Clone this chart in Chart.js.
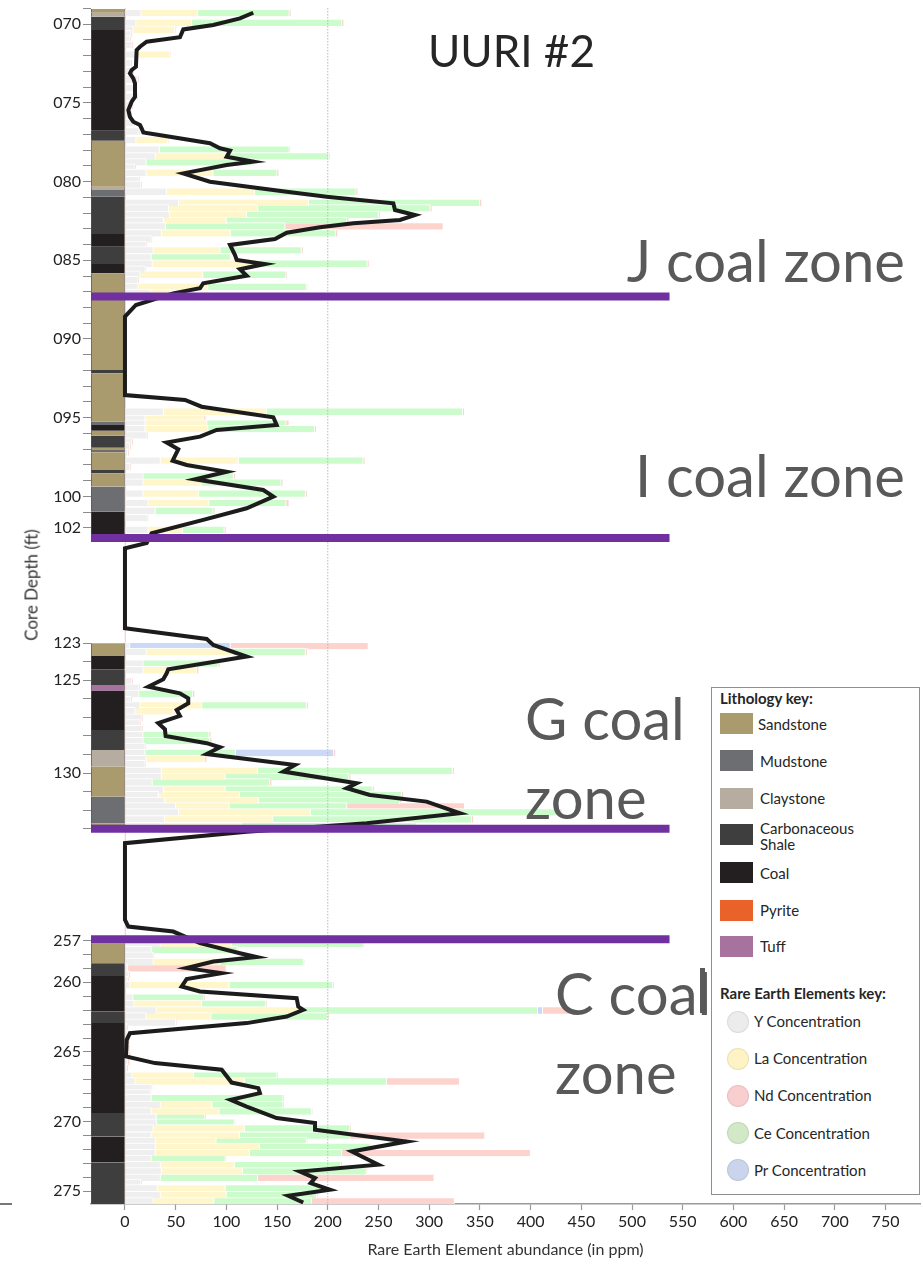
<!DOCTYPE html>
<html>
<head>
<meta charset="utf-8">
<title>UURI #2</title>
<script src="https://cdn.jsdelivr.net/npm/chart.js@4.4.1/dist/chart.umd.min.js"></script>
<style>
  html, body { margin: 0; padding: 0; background: #fff; }
  #page { position: relative; width: 923px; height: 1264px; overflow: hidden; font-family: Lato, "Open Sans", sans-serif; }
  #chart { position: absolute; left: 0; top: 0; }
  .label { position: absolute; white-space: nowrap; }
  .zone { font-size: 58px; line-height: 79px; color: #595959; }
  #title { left: 428px; top: 28px; font-size: 44px; line-height: 44px; color: #262626; }
  #ytitle { left: 31px; top: 585px; font-size: 17px; color: #333; transform: translate(-50%, -50%) rotate(-90deg); }
  #legend { position: absolute; left: 711px; top: 687px; width: 207px; height: 506px; border: 1px solid #8f8f8f; background: #fff; font-size: 15px; color: #262626; }
  #legend div { position: absolute; white-space: nowrap; line-height: 16px; }
  .lg-head { left: 8px; font-weight: bold; }
  .lg-dot { border-radius: 50%; border: 1px solid rgba(0,0,0,0.07); }
  .stray { position: absolute; background: #5a5a5a; }
</style>
</head>
<body>
<div id="page">
  <canvas id="chart" width="923" height="1264"></canvas>
  <div class="label" id="ytitle">Core Depth (ft)</div>
  <div id="legend"></div>
  <div class="stray" style="left:700px; top:968px; width:5px; height:45px;"></div>
  <div class="stray" style="left:0; top:1203px; width:12px; height:1.5px; background:#777;"></div>
  <div class="label" id="title">UURI #2</div>
  <div class="label zone" style="right:18px; top:220px;">J coal zone</div>
  <div class="label zone" style="right:18px; top:435px;">I coal zone</div>
  <div class="label zone" style="left:525px; top:678px;">G coal<br>zone</div>
  <div class="label zone" style="left:555px; top:953px;">C coal<br>zone</div>
</div>
<script>
const FONT = 'Lato, "Open Sans", sans-serif';

// ---- REE samples (ppm), J / I / G / C zones ----
const sampleDepth = [
  69.28, 69.9, 70.34, 70.62, 70.95, 71.3, 71.92, 72.45, 72.95, 73.5, 74.05, 74.6, 75.15, 75.7, 76.25, 76.8,
  77.35, 77.95, 78.38, 78.76, 79.1, 79.43, 79.9, 80.2, 80.63, 81.33, 81.68, 82.1, 82.48, 82.83, 83.27, 83.65,
  84.0, 84.35, 84.79, 85.2, 85.57, 85.9, 86.25, 86.67, 87.05,
  94.6, 95.06, 95.35, 95.7, 96.1, 96.5, 96.8, 97.2, 97.7, 98.1, 98.7, 99.1, 99.8, 100.4, 100.9, 101.35, 102.1,
  123.14, 123.45, 124.08, 124.44, 125.03, 125.38, 125.72, 126.05, 126.33, 126.65, 127.0, 127.31, 127.62, 127.94,
  128.26, 128.57, 128.9, 129.23, 129.5, 129.87, 130.19, 130.49, 130.88, 131.18, 131.48, 131.78, 132.1, 132.48, 132.85,
  257.22, 257.67, 258.07, 258.51, 258.98, 259.44, 259.8, 260.18, 261.08, 261.53, 262.0, 262.43, 262.87, 263.2,
  263.7, 264.2, 264.7, 265.2, 265.7, 266.15, 266.68, 267.1, 267.56, 267.95, 268.3, 268.78, 269.25, 269.7, 270.05,
  270.47, 270.99, 271.37, 271.79, 272.24, 272.66, 273.1, 273.55, 274.02, 274.38, 274.78, 275.26, 275.71
];
const yConc = [
  16, 11, 8, 6, 5, 7, 11, 6, 8, 13, 9, 12, 7, 6, 9, 14, 11, 34, 30, 21, 10, 21, 14, 16, 41, 53, 43, 44, 38, 40, 36, 26,
  21, 28, 26, 27, 20, 15, 13, 13, 25,
  38, 20, 20, 20, 22, 7, 5, 3, 35, 5, 18, 18, 18, 23, 30, 22, 23,
  5, 21, 18, 18, 7, 14, 14, 6, 15, 10, 17, 15, 17, 18, 18, 20, 20, 21, 20, 36, 36, 27, 38, 33, 39, 50, 53, 39, 35,
  35, 26, 28, 28, 3, 4, 3, 5, 8, 9, 31, 21, 50, 2, 3, 3, 3, 4, 3, 2, 7, 10, 26, 25, 26, 35, 26, 31, 31, 28, 26, 30,
  30, 30, 26, 35, 36, 35, 16, 32, 35, 28
];
const laConc = [
  56, 55, 41, 0, 0, 0, 33, 0, 0, 0, 0, 0, 0, 0, 0, 0, 31, 0, 70, 0, 0, 66, 0, 0, 87, 128, 88, 76, 62, 0, 68, 0,
  0, 66, 0, 105, 0, 62, 0, 69, 20,
  102, 58, 61, 62, 0, 0, 0, 0, 77, 0, 0, 58, 55, 60, 0, 0, 34,
  0, 85, 0, 53, 0, 0, 0, 0, 61, 38, 0, 0, 0, 0, 0, 0, 0, 58, 0, 95, 63, 0, 61, 80, 93, 53, 130, 107, 80,
  70, 0, 0, 66, 0, 0, 0, 98, 0, 67, 145, 64, 0, 0, 0, 0, 0, 0, 0, 0, 61, 108, 0, 0, 0, 51, 67, 0, 0, 90, 87, 60,
  103, 93, 0, 73, 80, 0, 0, 67, 65, 60
];
const ceConc = [
  90, 148, 0, 0, 0, 0, 0, 0, 0, 0, 0, 0, 0, 0, 0, 0, 0, 128, 101, 105, 0, 63, 0, 0, 100, 169, 170, 130, 119, 118, 104, 0,
  0, 80, 78, 107, 0, 82, 0, 97, 0,
  193, 0, 78, 105, 0, 0, 0, 0, 123, 0, 89, 78, 105, 76, 57, 0, 41,
  0, 72, 74, 0, 0, 0, 53, 0, 103, 0, 0, 0, 0, 65, 66, 0, 89, 0, 0, 192, 122, 116, 145, 160, 139, 116, 246, 196, 170,
  130, 85, 0, 82, 0, 0, 0, 102, 70, 63, 231, 115, 0, 0, 0, 0, 0, 0, 0, 0, 82, 140, 0, 0, 130, 70, 91, 48, 77, 104, 109, 89,
  109, 91, 73, 105, 122, 96, 0, 95, 89, 96
];
const prConc = [
  0, 0, 0, 0, 0, 0, 0, 0, 0, 0, 0, 0, 0, 0, 0, 0, 0, 0, 0, 0, 0, 0, 0, 0, 0, 0, 0, 0, 0, 0, 0, 0,
  0, 0, 0, 0, 0, 0, 0, 0, 0,
  0, 0, 0, 0, 0, 0, 0, 0, 0, 0, 0, 0, 0, 0, 0, 0, 0,
  99, 0, 0, 0, 0, 0, 0, 0, 0, 0, 0, 0, 0, 0, 0, 0, 97, 0, 0, 0, 0, 0, 0, 0, 0, 0, 0, 0, 0,
  0, 0, 0, 0, 0, 0, 0, 0, 0, 0, 5, 0, 0, 0, 0, 0, 0, 0, 0, 0, 0, 0, 0, 0, 0, 0, 0, 0, 0, 0, 0, 0,
  0, 0, 0, 0, 0, 0, 0, 0, 0, 0
];
const ndConc = [
  2, 2, 1, 1, 1, 1, 1, 1, 1, 1, 1, 1, 1, 1, 1, 1, 1, 1, 1, 1, 1, 2, 1, 1, 2, 2, 2, 2, 2, 156, 2, 1,
  1, 2, 1, 2, 1, 1, 1, 1, 1,
  2, 2, 3, 2, 1, 1, 1, 1, 2, 1, 2, 2, 2, 3, 2, 1, 2,
  136, 2, 2, 2, 1, 1, 2, 1, 2, 1, 1, 1, 1, 2, 2, 1, 2, 2, 1, 2, 2, 2, 2, 2, 2, 116, 2, 2, 2,
  1, 1, 1, 1, 97, 1, 1, 1, 1, 1, 27, 1, 1, 1, 2, 2, 2, 2, 2, 1, 1, 72, 1, 1, 1, 1, 1, 1, 1, 1, 133, 1,
  1, 186, 1, 1, 1, 174, 1, 1, 1, 141
];

// ---- black profile line ----
const lineDepth = [
  69.28, 69.64, 70.06, 70.34, 70.59, 70.84, 71.12, 71.44, 71.65, 72.71, 72.92, 73.13, 73.45, 73.77, 74.62, 74.93,
  75.46, 75.89, 76.2, 76.41, 76.62, 76.88, 77.16, 77.57, 77.89, 78.04, 78.43, 78.74, 78.95, 79.48, 80.01, 80.65,
  80.97, 81.38, 81.81, 82.13, 82.44, 82.65, 82.91, 83.25, 83.65, 84.03, 84.67, 84.98, 85.24, 85.57, 85.98, 86.46,
  86.78, 87.1, 87.84, 88.58, 93.56, 93.87, 94.3, 94.97, 95.46, 95.78, 96.2, 96.58, 97.0, 97.73, 98.0, 98.43,
  98.91, 99.59, 100.01, 100.75, 101.49, 102.34, 102.95, 103.98, 121.27, 122.77, 123.09, 123.72, 124.4, 124.62,
  124.94, 125.34, 125.7, 125.97, 126.24, 126.6, 126.92, 127.31, 127.64, 128.0, 128.39, 128.61, 128.97, 129.56,
  129.92, 130.55, 130.82, 131.18, 131.54, 132.17, 132.7, 133.16, 140.19, 238.88, 247.5, 253.93, 257.19, 257.91,
  258.19, 258.51, 258.98, 259.34, 259.77, 260.3, 260.66, 261.14, 261.74, 261.98, 262.46, 262.93, 263.65, 264.13,
  265.33, 265.8, 266.28, 267.2, 267.6, 267.96, 268.44, 268.92, 269.75, 270.11, 270.59, 271.43, 272.15, 273.1,
  273.59, 274.06, 274.42, 274.9, 275.33, 275.81
];
const lineValue = [
  126.5, 113.4, 87.1, 57.5, 55.9, 54.2, 21.4, 14.8, 11.5, 10.8, 6.6, 4.9, 8.2, 9.9, 9.9, 6.6,
  3.3, 4.9, 8.2, 14.8, 16.4, 18.1, 44.4, 83.8, 93.7, 103.6, 100.3, 126.5, 100.3, 57.5, 83.8, 159.5,
  198.9, 264.6, 266.3, 286, 271.2, 225.2, 192.3, 159.5, 147.9, 103.6, 108.5, 110.2, 138, 113.4, 120, 77.2,
  74, 47.6, 10.8, 0, 0, 59.2, 75.6, 146.3, 149.6, 90.4, 74, 41.1, 52.6, 47, 60.8, 100.3,
  69, 136.4, 146.3, 120, 77.2, 26.3, 21.4, 0, 0, 80.6, 87.1, 120, 42.7, 41.1,
  37.8, 23, 54.2, 62.4, 62.4, 51, 54.2, 32.8, 39.4, 40.1, 80.6, 93.7, 80.6, 167.7,
  156.1, 228.5, 218.6, 241.6, 297.5, 330.4, 238.4, 120, 0, 0, 3.3, 47.6, 74, 113.4,
  129.9, 87.1, 60.8, 95.4, 60.8, 55.9, 74, 169.3, 170.9, 175.8, 159.5, 120, 4.9, 1.7,
  1, 29.6, 95.4, 105.2, 131.5, 133.1, 104.2, 120, 149.6, 187.4, 187.4, 277.8, 223.6, 249.8,
  172.6, 187.4, 183.1, 202.2, 161, 175.8
];

// ---- lithology column ----
const lithTop = [
  69.05, 69.28, 69.54, 70.38, 76.77, 77.41, 80.33, 80.54, 80.97, 83.33, 84.14, 85.24, 85.83, 91.97, 92.18,
  95.25, 95.46, 95.82, 96.14, 96.9, 97.05, 97.19, 98.32, 98.53, 99.37, 100.96,
  123.0, 123.69, 124.4, 125.25, 125.56, 127.68, 128.75, 129.65, 131.27, 132.7,
  257.19, 258.63, 259.54, 262.1, 262.93, 269.39, 271.07, 272.94
];
const lithBase = [
  69.28, 69.54, 70.38, 76.77, 77.41, 80.33, 80.54, 80.97, 83.33, 84.14, 85.24, 85.83, 91.97, 92.18, 95.25,
  95.46, 95.82, 96.14, 96.9, 97.05, 97.19, 98.32, 98.53, 99.37, 100.96, 102.4,
  123.69, 124.4, 125.25, 125.56, 127.68, 128.75, 129.65, 131.27, 132.7, 133.0,
  258.63, 259.54, 262.1, 262.93, 269.39, 271.07, 272.94, 275.93
];
const lithType = [
  'Sandstone', 'Claystone', 'Carbonaceous Shale', 'Coal', 'Carbonaceous Shale', 'Sandstone', 'Claystone', 'Mudstone',
  'Carbonaceous Shale', 'Coal', 'Carbonaceous Shale', 'Coal', 'Sandstone', 'Carbonaceous Shale', 'Sandstone',
  'Mudstone', 'Coal', 'Sandstone', 'Carbonaceous Shale', 'Sandstone', 'Mudstone', 'Sandstone', 'Carbonaceous Shale',
  'Sandstone', 'Mudstone', 'Coal',
  'Sandstone', 'Coal', 'Carbonaceous Shale', 'Tuff', 'Coal', 'Carbonaceous Shale', 'Claystone', 'Sandstone', 'Mudstone', 'Sandstone',
  'Sandstone', 'Carbonaceous Shale', 'Coal', 'Carbonaceous Shale', 'Coal', 'Carbonaceous Shale', 'Coal', 'Carbonaceous Shale'
];
const lithNames = ['Sandstone', 'Mudstone', 'Claystone', 'Carbonaceous Shale', 'Coal', 'Pyrite', 'Tuff'];
const lithColors = {
  'Sandstone': '#a99b6d', 'Mudstone': '#6d6e71', 'Claystone': '#b6ac9f', 'Carbonaceous Shale': '#3e3e3e',
  'Coal': '#231f20', 'Pyrite': '#e8622a', 'Tuff': '#a8729e'
};

// coal zone boundaries (purple bars)
const zoneDepths = [87.3, 102.63, 133.0, 256.9];

// x axis
const xTicks = [0, 50, 100, 150, 200, 250, 300, 350, 400, 450, 500, 550, 600, 650, 700, 750];
const xMin = -33.5, xMax = 784, zoneLineEnd = 537;

// broken depth axis: each piece maps a depth range onto the axis
const axisPieces = [
  { from: 69,    to: 103,   start: 8.25,  end: 543.75 },
  { from: 103,   to: 122.5, start: 543.75, end: 634 },
  { from: 122.5, to: 133.5, start: 634,   end: 838.1 },
  { from: 133.5, to: 256.5, start: 838.1, end: 933.7 },
  { from: 256.5, to: 276,   start: 933.7, end: 1205.3 }
];
function axisPos(depth) {
  let p = axisPieces[axisPieces.length - 1];
  for (const piece of axisPieces) {
    if (depth <= piece.to) { p = piece; break; }
  }
  return p.start + (depth - p.from) * (p.end - p.start) / (p.to - p.from);
}
function range(a, b) { const r = []; for (let d = a; d <= b; d++) r.push(d); return r; }

const depthTop = 68.98, depthBottom = 275.92;
const tickDepths = [].concat(range(69, 102), range(123, 133), range(257, 275));
const labeledDepths = [70, 75, 80, 85, 90, 95, 100, 102, 123, 125, 130, 257, 260, 265, 270, 275];

const reeSeries = [
  { label: 'Y Concentration',  values: yConc,  color: '#efefef', legend: '#ececec' },
  { label: 'La Concentration', values: laConc, color: '#fff6cc', legend: '#fdf3c5' },
  { label: 'Ce Concentration', values: ceConc, color: '#ccfccc', legend: '#d2e8c6' },
  { label: 'Pr Concentration', values: prConc, color: '#ccd9f6', legend: '#cad5ed' },
  { label: 'Nd Concentration', values: ndConc, color: '#fdd3ce', legend: '#f8cfce' }
];

// ---- datasets ----
const datasets = [];

zoneDepths.forEach(d => {
  datasets.push({
    type: 'line', data: [{ x: xMin, y: axisPos(d) }, { x: zoneLineEnd, y: axisPos(d) }],
    borderColor: '#7030a0', borderWidth: 8, borderCapStyle: 'butt', pointRadius: 0, order: 0
  });
});

datasets.push({
  type: 'line', data: lineDepth.map((d, i) => ({ x: lineValue[i], y: axisPos(d) })),
  borderColor: '#1c1c1c', borderWidth: 4, pointRadius: 0, tension: 0, fill: false, order: 1
});

datasets.push({
  type: 'line', data: [{ x: 200, y: axisPos(depthTop) }, { x: 200, y: axisPos(depthBottom) }],
  borderColor: '#b8b8b8', borderWidth: 1, borderDash: [1.5, 1.5], pointRadius: 0, order: 2
});

reeSeries.forEach(s => {
  datasets.push({
    type: 'bar', label: s.label, indexAxis: 'y', stack: 'ree', grouped: false, barThickness: 7,
    data: sampleDepth.map((d, i) => ({ x: s.values[i], y: axisPos(d) })),
    backgroundColor: s.color, borderColor: '#ffffff',
    borderWidth: { top: 1, right: 1, bottom: 0, left: 0 }, borderSkipped: false, order: 3
  });
});

datasets.push({
  type: 'line', data: [{ x: 0.4, y: axisPos(depthTop) }, { x: 0.4, y: axisPos(depthBottom) }],
  borderColor: '#f7d3cf', borderWidth: 1, pointRadius: 0, order: 4
});

lithNames.forEach(name => {
  const rows = [];
  lithType.forEach((t, i) => {
    if (t === name) rows.push({ x: xMin / 2, y: [axisPos(lithTop[i]), axisPos(lithBase[i])] });
  });
  if (!rows.length) return;
  datasets.push({
    type: 'bar', label: name, indexAxis: 'x', grouped: false, barThickness: 34,
    data: rows, backgroundColor: lithColors[name], borderColor: '#555555',
    borderWidth: { left: 1, right: 1, top: 0, bottom: 0 }, borderSkipped: false, order: 5
  });
});

new Chart(document.getElementById('chart'), {
  type: 'bar',
  data: { datasets },
  options: {
    responsive: false,
    animation: false,
    layout: { padding: { top: 8, right: 3, left: 0, bottom: 0 } },
    plugins: { legend: { display: false }, tooltip: { enabled: false } },
    scales: {
      x: {
        type: 'linear', min: xMin, max: xMax, stacked: true, offset: false,
        afterBuildTicks: s => { s.ticks = xTicks.map(v => ({ value: v })); },
        afterFit: s => { s.height = 60; s.paddingLeft = 0; s.paddingRight = 0; },
        grid: { drawOnChartArea: false, offset: false, tickLength: 6, tickColor: '#9a9a9a', tickWidth: 1.2 },
        border: { color: '#9a9a9a', width: 1.5 },
        ticks: { autoSkip: false, maxRotation: 0, padding: 2, color: '#222', font: { family: FONT, size: 16 } },
        title: {
          display: true, text: 'Rare Earth Element abundance (in ppm)', color: '#333',
          font: { family: FONT, size: 16 }, padding: { top: 0, bottom: 5 }
        }
      },
      y: {
        type: 'linear', reverse: true, min: axisPos(depthTop), max: axisPos(depthBottom), offset: false,
        afterBuildTicks: s => { s.ticks = tickDepths.map(d => ({ value: axisPos(d), depth: d })); },
        afterFit: s => { s.width = 91; s.paddingTop = 0; s.paddingBottom = 0; },
        grid: { drawOnChartArea: false, offset: false, tickLength: 8, tickColor: '#8a8a8a' },
        border: { display: false },
        ticks: {
          autoSkip: false, padding: 2, color: '#222', font: { family: FONT, size: 16 },
          callback: (v, i, ticks) => labeledDepths.includes(ticks[i].depth) ? String(ticks[i].depth).padStart(3, '0') : ''
        }
      }
    }
  }
});

// ---- legend box ----
const legend = document.getElementById('legend');
function add(cls, text, css) {
  const el = document.createElement('div');
  if (cls) el.className = cls;
  if (text) el.textContent = text;
  Object.assign(el.style, css);
  legend.appendChild(el);
  return el;
}
add('lg-head', 'Lithology key:', { top: '2px' });
const swatchTops = [25, 62, 99.5, 135.5, 174, 211.5, 247.5];
lithNames.forEach((name, i) => {
  add('', '', { left: '8px', top: swatchTops[i] + 'px', width: '33px', height: '21px', background: lithColors[name] });
  const lab = add('', '', { left: (i === 0 ? 46 : 48) + 'px', top: (swatchTops[i] + 2.5) + 'px' });
  if (name === 'Carbonaceous Shale') {
    lab.innerHTML = 'Carbonaceous<br>Shale';
    lab.style.top = (swatchTops[i] - 4) + 'px';
  } else {
    lab.textContent = name;
  }
});
add('lg-head', 'Rare Earth Elements key:', { top: '297px' });
const legendOrder = ['Y Concentration', 'La Concentration', 'Nd Concentration', 'Ce Concentration', 'Pr Concentration'];
legendOrder.forEach((name, i) => {
  const s = reeSeries.find(r => r.label === name);
  const top = 322.7 + i * 37.1;
  add('lg-dot', '', { left: '15px', top: top + 'px', width: '20px', height: '20px', background: s.legend });
  add('', name, { left: '42px', top: (top + 2.5) + 'px' });
});
</script>
</body>
</html>
